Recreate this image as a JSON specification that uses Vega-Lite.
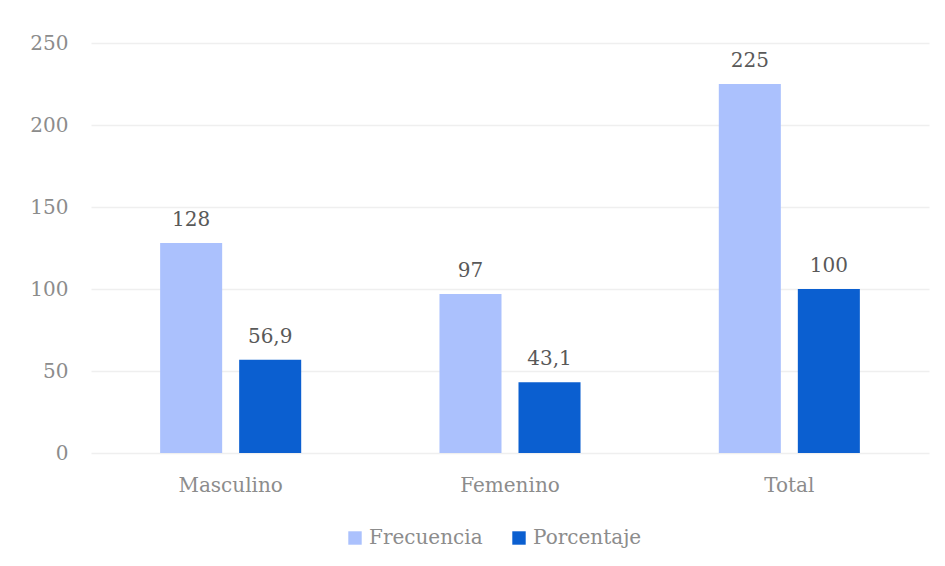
{
  "$schema": "https://vega.github.io/schema/vega-lite/v6.json",
  "autosize": "none",
  "width": 838,
  "height": 410,
  "padding": {"left": 91, "top": 43, "right": 16, "bottom": 113},
  "background": "white",
  "data": {"values": [
    {"categoria": "Masculino", "serie": "Frecuencia", "valor": 128, "etiqueta": "128"},
    {"categoria": "Masculino", "serie": "Porcentaje", "valor": 56.9, "etiqueta": "56,9"},
    {"categoria": "Femenino", "serie": "Frecuencia", "valor": 97, "etiqueta": "97"},
    {"categoria": "Femenino", "serie": "Porcentaje", "valor": 43.1, "etiqueta": "43,1"},
    {"categoria": "Total", "serie": "Frecuencia", "valor": 225, "etiqueta": "225"},
    {"categoria": "Total", "serie": "Porcentaje", "valor": 100, "etiqueta": "100"}
  ]},
  "encoding": {
    "x": {"field": "categoria", "type": "nominal", "sort": ["Masculino", "Femenino", "Total"],
      "scale": {"paddingInner": 0.495, "paddingOuter": 0.2475},
      "axis": {"title": null, "labelAngle": 0, "domain": false, "ticks": false, "labelPadding": 22, "labelFontSize": 20, "labelColor": "#8c8c8c", "labelFont": "DejaVu Serif"}},
    "xOffset": {"field": "serie", "type": "nominal", "scale": {"paddingInner": 0.215, "paddingOuter": 0}},
    "y": {"field": "valor", "type": "quantitative", "scale": {"domain": [0, 250]},
      "axis": {"title": null, "values": [0, 50, 100, 150, 200, 250], "domain": false, "ticks": false, "labelPadding": 23, "labelFontSize": 20, "labelColor": "#8c8c8c", "labelFont": "DejaVu Serif", "gridColor": "#efefef", "gridWidth": 1.5}}
  },
  "layer": [
    {"mark": {"type": "bar"},
      "encoding": {"color": {"field": "serie", "type": "nominal",
        "scale": {"domain": ["Frecuencia", "Porcentaje"], "range": ["#abc1fd", "#0b5fd0"]},
        "legend": {"title": null, "orient": "none", "legendX": 254, "legendY": 485, "direction": "horizontal",
          "symbolType": "square", "symbolSize": 180, "symbolStrokeWidth": 0, "labelFontSize": 20, "labelColor": "#8c8c8c",
          "labelFont": "DejaVu Serif", "columnPadding": 26, "labelOffset": 4}}}},
    {"mark": {"type": "text", "baseline": "bottom", "dy": -13, "fontSize": 20, "font": "DejaVu Serif", "color": "#595959"},
      "encoding": {"text": {"field": "etiqueta"}}}
  ],
  "config": {"view": {"stroke": null}}
}
